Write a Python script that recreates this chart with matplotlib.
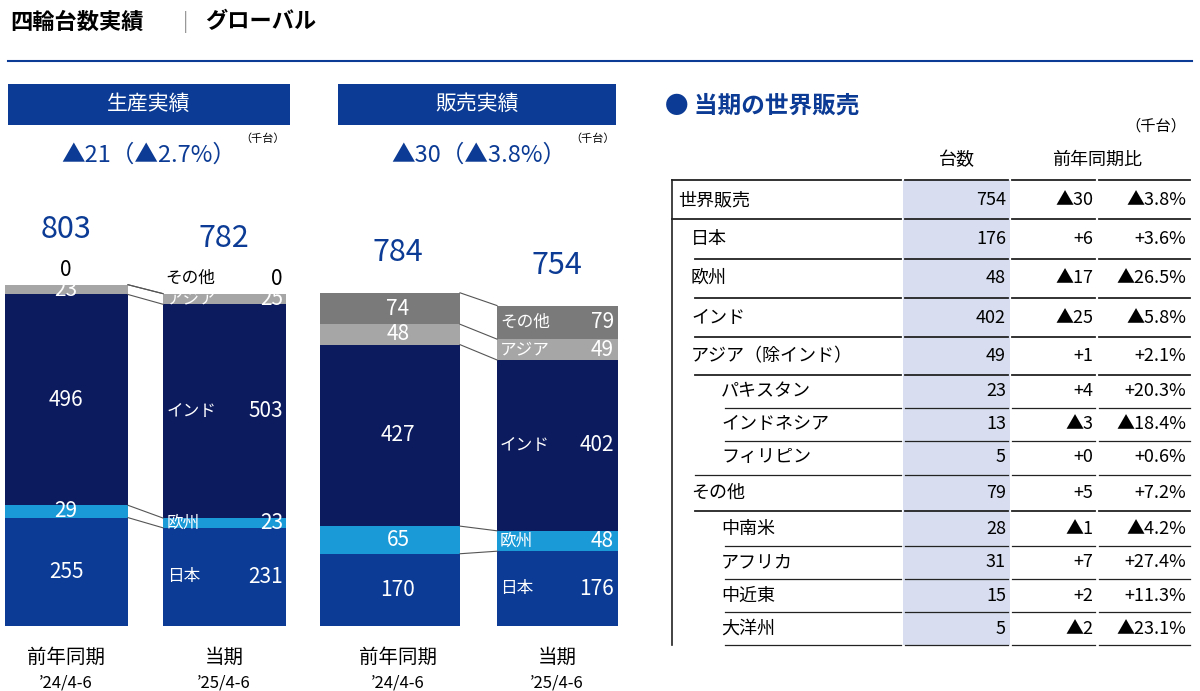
import matplotlib.pyplot as plt
import numpy as np

plt.rcParams['font.family'] = ['Noto Sans CJK JP', 'DejaVu Sans']

# data (thousand units)
segments = ["日本", "欧州", "インド", "アジア", "その他"]
prod_prev = [255, 29, 496, 23, 0]
prod_cur = [231, 23, 503, 25, 0]
sales_prev = [170, 65, 427, 48, 74]
sales_cur = [176, 48, 402, 49, 79]
seg_colors = ["#0b3b94", "#1b9ad8", "#0c1a5e", "#a6a6a6", "#7a7a7a"]

table_rows = ["世界販売", "日本", "欧州", "インド", "アジア（除インド）", "パキスタン",
              "インドネシア", "フィリピン", "その他", "中南米", "アフリカ", "中近東", "大洋州"]
table_units = [754, 176, 48, 402, 49, 23, 13, 5, 79, 28, 31, 15, 5]
table_diff = ["▲30", "+6", "▲17", "▲25", "+1", "+4", "▲3", "+0", "+5", "▲1", "+7", "+2", "▲2"]
table_pct = ["▲3.8%", "+3.6%", "▲26.5%", "▲5.8%", "+2.1%", "+20.3%", "▲18.4%", "+0.6%",
             "+7.2%", "▲4.2%", "+27.4%", "+11.3%", "▲23.1%"]
table_level = [0, 1, 1, 1, 1, 2, 2, 2, 1, 2, 2, 2, 2]

BLUE = "#0b3b94"
fig = plt.figure(figsize=(12, 6.91), dpi=100)

# pixel overlay axes
px = fig.add_axes([0, 0, 1, 1])
px.set_xlim(0, 1200)
px.set_ylim(691, 0)
px.axis("off")

# bar axes: baseline at y=626 px, 426 px tall
bar_ax = fig.add_axes([0, (691 - 626) / 691, 1, 426 / 691])
bar_ax.set_xlim(0, 1200)
bar_ax.set_ylim(0, 426 / 0.425)
bar_ax.axis("off")

px.text(10, 22, "四輪台数実績", fontsize=16, fontweight="bold", va="center")
px.text(183, 22, "|", fontsize=14, color="#999999", va="center")
px.text(205, 22, "グローバル", fontsize=16, fontweight="bold", va="center")
px.plot([8, 1192], [61, 61], color=BLUE, lw=1.5)


def draw_chart(prev, cur, x1, w1, x2, w2, label_side):
    c1 = np.concatenate([[0], np.cumsum(prev)])
    c2 = np.concatenate([[0], np.cumsum(cur)])
    for i in range(len(prev)):
        bar_ax.bar(x1, prev[i], bottom=c1[i], width=w1, align="edge", color=seg_colors[i], lw=0)
        bar_ax.bar(x2, cur[i], bottom=c2[i], width=w2, align="edge", color=seg_colors[i], lw=0)
    for i in range(1, len(c1)):
        bar_ax.plot([x1 + w1, x2], [c1[i], c2[i]], color="#555555", lw=0.8)
    return c1, c2


def seg_labels(vals, cum, xc, names=None, xl=None, xr=None, skip_zero=True):
    for i, v in enumerate(vals):
        if v == 0:
            continue
        ym = cum[i] + v / 2
        if names is None:
            bar_ax.text(xc, ym, str(v), color="white", fontsize=15, ha="center", va="center")
        else:
            bar_ax.text(xl, ym, names[i], color="white", fontsize=12, ha="left", va="center")
            bar_ax.text(xr, ym, str(v), color="white", fontsize=15, ha="right", va="center")


# production chart
c1, c2 = draw_chart(prod_prev, prod_cur, 5, 123, 163, 123, None)
seg_labels(prod_prev, c1, 66)
seg_labels(prod_cur, c2, 0, segments, 167, 283)
bar_ax.text(66, c1[-1] + 35, "0", fontsize=15, ha="center", va="center")
bar_ax.text(165, c2[-1] + 35, "その他", fontsize=12, ha="left", va="center")
bar_ax.text(283, c2[-1] + 35, "0", fontsize=15, ha="right", va="center")
bar_ax.text(66, c1[-1] + 130, str(sum(prod_prev)), fontsize=22, color=BLUE, ha="center", va="center")
bar_ax.text(224, c2[-1] + 130, str(sum(prod_cur)), fontsize=22, color=BLUE, ha="center", va="center")

# sales chart
s1, s2 = draw_chart(sales_prev, sales_cur, 320, 140, 497, 121, None)
seg_labels(sales_prev, s1, 398)
seg_labels(sales_cur, s2, 0, segments, 500, 614)
bar_ax.text(398, s1[-1] + 95, str(sum(sales_prev)), fontsize=22, color=BLUE, ha="center", va="center")
bar_ax.text(557, s2[-1] + 95, str(sum(sales_cur)), fontsize=22, color=BLUE, ha="center", va="center")

# completed vehicles brackets
for xc, val in [(66, 242), (224, 211)]:
    for sx in (-1, 1):
        xe = xc + sx * 55
        px.plot([xe - sx * 4, xe, xe, xe - sx * 4], [588, 592, 618, 622], color="white", lw=1)
    px.text(xc, 594, "内、完成車", color="white", fontsize=9, ha="center", va="center")
    px.text(xc, 612, str(val), color="white", fontsize=9, ha="center", va="center")

# header boxes and deltas
for x0, x1, title, delta, sup in [(8, 290, "生産実績", "▲21（▲2.7%）", 240),
                                  (338, 616, "販売実績", "▲30（▲3.8%）", 570)]:
    px.add_patch(plt.Rectangle((x0, 84), x1 - x0, 41, color=BLUE, lw=0))
    px.text((x0 + x1) / 2, 104, title, color="white", fontsize=15, ha="center", va="center")
    px.text(sup - 4, 155, delta, color=BLUE, fontsize=17, ha="right", va="center")
    px.text(sup, 139, "（千台）", fontsize=8, ha="left", va="center")

# x labels
for xc, a, b in [(66, "前年同期", "’24/4-6"), (224, "当期", "’25/4-6"),
                 (398, "前年同期", "’24/4-6"), (557, "当期", "’25/4-6")]:
    px.text(xc, 657, a, fontsize=14, ha="center", va="center")
    px.text(xc, 683, b, fontsize=12, ha="center", va="center")

# table
px.text(665, 106, "● 当期の世界販売", color=BLUE, fontsize=17, fontweight="bold", va="center")
px.text(1186, 126, "（千台）", fontsize=11, ha="right", va="center")
px.text(957, 160, "台数", fontsize=13, ha="center", va="center")
px.text(1097, 160, "前年同期比", fontsize=13, ha="center", va="center")
row_y = [200, 239, 278, 318, 356, 391, 424, 457, 493, 529, 562, 596, 629]
bounds = [180, 219, 259, 298, 337, 375, 408, 441, 475, 511, 546, 579, 612, 645]
px.add_patch(plt.Rectangle((903, 180), 107, 465, color="#d8deef", lw=0, zorder=0))
px.plot([672, 672], [180, 645], color="#222222", lw=1.2)
indent = [0, 13, 43]
for i, y in enumerate(row_y):
    lvl = table_level[i]
    px.text(678 + indent[lvl], y, table_rows[i], fontsize=13, va="center")
    px.text(1006, y, str(table_units[i]), fontsize=13, ha="right", va="center")
    px.text(1093, y, table_diff[i], fontsize=13, ha="right", va="center")
    px.text(1186, y, table_pct[i], fontsize=13, ha="right", va="center")
for j, b in enumerate(bounds):
    if j == 0:
        xs = 672
    else:
        nxt = table_level[j] if j < len(table_level) else 2
        xs = 672 + indent[min(nxt, table_level[j - 1])] + (0 if j < 2 else 10)
    lw = 1.3 if j <= 5 or j == 9 else 0.9
    for a, bb in [(xs, 901), (905, 1008), (1012, 1095), (1099, 1190)]:
        px.plot([a, bb], [b, b], color="#222222", lw=lw)

fig.savefig("out.png", dpi=100)
